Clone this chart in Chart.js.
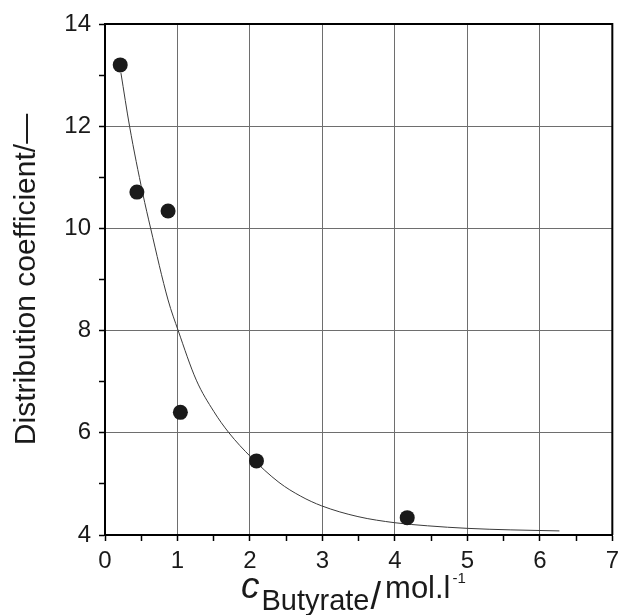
<!DOCTYPE html>
<html>
<head>
<meta charset="utf-8">
<script src="https://cdn.jsdelivr.net/npm/chart.js@4.4.1/dist/chart.umd.min.js"></script>
<style>
  html, body { margin: 0; padding: 0; background: #ffffff; overflow: hidden; }
  #wrap { width: 625px; height: 615px; position: relative; }
</style>
</head>
<body>
<div id="wrap"><canvas id="c" width="625" height="615"></canvas></div>
<script>
// Measured data points (c_Butyrate in mol/l, distribution coefficient)
const concentration = [0.21, 0.44, 0.87, 1.04, 2.09, 4.17];
const distribution = [13.20, 10.71, 10.34, 6.40, 5.45, 4.34];

// Fitted curve
const fitConcentration = [0.22, 0.34, 0.52, 0.63, 0.87, 1.01, 1.26, 1.50, 1.71, 2.01, 2.40, 2.70, 2.99, 3.49, 4.00, 4.45, 5.00, 5.60, 6.27];
const fitDistribution = [13.04, 11.99, 10.69, 10.00, 8.60, 8.00, 7.03, 6.42, 6.00, 5.53, 5.03, 4.76, 4.57, 4.36, 4.24, 4.18, 4.13, 4.10, 4.08];

// Axis ranges / labels
const xRange = [0, 7];
const yRange = [4, 14];
const yTitle = 'Distribution coefficient/\u2014';
const xTitleMain = 'c';
const xTitleSub = 'Butyrate';
const xTitleUnit = 'mol.l';
const xTitleSup = '-1';

const FONT = "'Liberation Sans', Arial, Helvetica, sans-serif";
const INK = '#1a1a1a';
const GRID = '#6e6e6e';

const pointData = concentration.map((x, i) => ({ x, y: distribution[i] }));
const fitData = fitConcentration.map((x, i) => ({ x, y: fitDistribution[i] }));

const frameAndTitles = {
  id: 'frameAndTitles',
  afterDraw(chart) {
    const { ctx, chartArea: a } = chart;
    ctx.save();
    // top and right frame lines
    ctx.strokeStyle = '#000';
    ctx.lineWidth = 2;
    ctx.beginPath();
    ctx.moveTo(a.left, a.top);
    ctx.lineTo(a.right, a.top);
    ctx.lineTo(a.right, a.bottom);
    ctx.stroke();

    ctx.fillStyle = INK;
    ctx.textBaseline = 'alphabetic';
    ctx.textAlign = 'left';
    // x title: c_Butyrate / mol.l^-1
    const cx = 241;
    ctx.font = 'italic 37px ' + FONT;
    ctx.fillText(xTitleMain, cx, 598);
    let x = cx + ctx.measureText(xTitleMain).width + 2;
    ctx.font = '29px ' + FONT;
    ctx.fillText(xTitleSub, x, 610);
    x += ctx.measureText(xTitleSub).width + 1;
    ctx.font = '38px ' + FONT;
    ctx.fillText('/', x, 609);
    x += ctx.measureText('/').width + 4;
    ctx.font = '31px ' + FONT;
    ctx.fillText(xTitleUnit, x, 598);
    x += ctx.measureText(xTitleUnit).width + 2;
    ctx.font = '15px ' + FONT;
    ctx.fillText(xTitleSup, x, 583);

    // y title
    ctx.translate(35, (a.top + a.bottom) / 2);
    ctx.rotate(-Math.PI / 2);
    ctx.textAlign = 'center';
    ctx.font = '30px ' + FONT;
    ctx.fillText(yTitle, 0, 0);
    ctx.restore();
  }
};

new Chart(document.getElementById('c'), {
  type: 'scatter',
  data: {
    datasets: [
      {
        label: 'measured',
        data: pointData,
        showLine: false,
        pointRadius: 7.5,
        pointHoverRadius: 7.5,
        pointBackgroundColor: INK,
        pointBorderWidth: 0,
        order: 0
      },
      {
        label: 'fit',
        data: fitData,
        showLine: true,
        borderColor: '#3a3a3a',
        borderWidth: 1,
        pointRadius: 0,
        cubicInterpolationMode: 'monotone',
        fill: false,
        order: 1
      }
    ]
  },
  options: {
    responsive: false,
    devicePixelRatio: 1,
    animation: false,
    layout: { padding: { left: 0, top: 24, right: 9, bottom: 0 } },
    plugins: { legend: { display: false }, tooltip: { enabled: false } },
    scales: {
      x: {
        type: 'linear',
        min: xRange[0],
        max: xRange[1],
        afterFit(scale) { scale.height = 80; },
        border: { color: '#000', width: 2 },
        grid: {
          color: (c) => (Number.isInteger(c.tick.value) && c.tick.value > xRange[0] && c.tick.value < xRange[1]) ? GRID : 'rgba(0,0,0,0)',
          lineWidth: 1,
          tickColor: '#000',
          tickLength: 6,
          tickWidth: 1.5
        },
        ticks: {
          stepSize: 0.5,
          autoSkip: false,
          maxRotation: 0,
          padding: 6,
          color: INK,
          font: { family: FONT, size: 24 },
          callback: (v) => Number.isInteger(v) ? String(v) : ''
        }
      },
      y: {
        type: 'linear',
        min: yRange[0],
        max: yRange[1],
        afterFit(scale) { scale.width = 105; },
        border: { color: '#000', width: 2 },
        grid: {
          color: (c) => (c.tick.value % 2 === 0 && c.tick.value > yRange[0] && c.tick.value < yRange[1]) ? GRID : 'rgba(0,0,0,0)',
          lineWidth: 1,
          tickColor: '#000',
          tickLength: 6,
          tickWidth: 1.5
        },
        ticks: {
          stepSize: 1,
          autoSkip: false,
          padding: 8,
          color: INK,
          font: { family: FONT, size: 24 },
          callback: (v) => v % 2 === 0 ? String(v) : ''
        }
      }
    }
  },
  plugins: [frameAndTitles]
});
</script>
</body>
</html>
